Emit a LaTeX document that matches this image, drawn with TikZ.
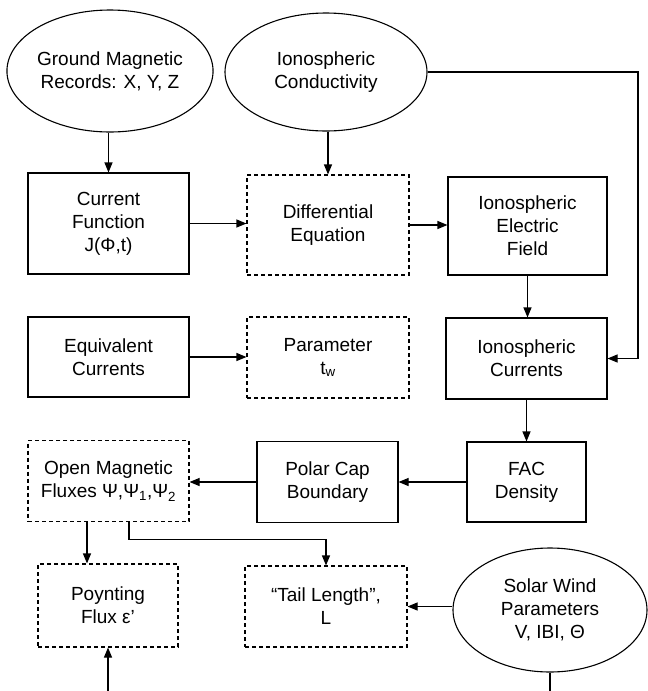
\documentclass[tikz,border=0pt]{standalone}
\usepackage{fontspec}
\setmainfont{Liberation Sans}
\usetikzlibrary{arrows.meta,shapes.geometric}
\begin{document}
\begin{tikzpicture}[x=1pt,y=-1pt,
  base/.style={draw, line width=1.1pt, inner sep=0pt, align=center,
    font=\fontsize{19}{23}\selectfont},
  solidbox/.style={base, rectangle},
  dashbox/.style={base, rectangle, dash pattern=on 4pt off 3pt},
  oval/.style={base, ellipse, minimum width=196pt, minimum height=122pt},
  link/.style={line width=1.1pt, -{Triangle[length=10pt,width=8pt]}},
  plain/.style={line width=1.1pt}]
\useasboundingbox (0,0) rectangle (648,691);

% input ovals
\node[oval] (gmr) at (110,71) {Ground Magnetic\\Records: X, Y, Z};
\node[oval, minimum width=202pt, minimum height=118pt] (cond) at (326,72) {Ionospheric\\Conductivity};
\node[oval, minimum width=194pt, minimum height=124pt] (sw) at (550,610) {Solar Wind\\Parameters\\V, IBI, Θ};

% processing boxes
\node[solidbox, minimum width=161pt, minimum height=101pt] (cf) at (108.5,223.5) {Current\\Function\\J(Φ,t)};
\node[dashbox, minimum width=162pt, minimum height=100pt] (de) at (328,225) {Differential\\Equation};
\node[solidbox, minimum width=159pt, minimum height=98pt] (ef) at (527.5,226) {Ionospheric\\Electric\\Field};

\node[solidbox, minimum width=161pt, minimum height=80pt] (eq) at (108.5,357) {Equivalent\\Currents};
\node[dashbox, minimum width=162pt, minimum height=81pt] (tw) at (328,357.5) {Parameter\\t\textsubscript{w}};
\node[solidbox, minimum width=161pt, minimum height=81pt] (ic) at (526.5,358.5) {Ionospheric\\Currents};

\node[dashbox, minimum width=161pt, minimum height=81pt] (om) at (108.5,481) {Open Magnetic\\Fluxes Ψ,Ψ\textsubscript{1},Ψ\textsubscript{2}};
\node[solidbox, minimum width=141pt, minimum height=81pt] (pc) at (327.5,482) {Polar Cap\\Boundary};
\node[solidbox, minimum width=119pt, minimum height=80pt] (fac) at (526.5,482) {FAC\\Density};

\node[dashbox, minimum width=140pt, minimum height=83pt] (pf) at (108,605.5) {Poynting\\Flux ε'};
\node[dashbox, minimum width=162pt, minimum height=81pt] (tl) at (326,606.5) {“Tail Length”,\\L};

% helper coordinates for the rail and the lower edge
\coordinate (rail) at (638,0);
\coordinate (floor) at (0,691);

% connectors
\draw[link] (cf.north |- gmr.south) -- (cf.north);
\draw[link] (de.north |- cond.south) -- (de.north);
\draw[link] (cf.east) -- (cf.east -| de.west);
\draw[link] (de.east) -- (de.east -| ef.west);
\draw[link] (ef.south) -- (ef.south |- ic.north);
\draw[link] (cond.east) -- (cond.east -| rail) |- (ic.east);
\draw[link] (eq.east) -- (eq.east -| tw.west);
\draw[link] (ic.south) -- (ic.south |- fac.north);
\draw[link] (fac.west) -- (fac.west -| pc.east);
\draw[link] (pc.west) -- (pc.west -| om.east);
\draw[link] ([xshift=-21.5pt]om.south) -- ([xshift=-21.5pt]om.south |- pf.north);
\draw[link] ([xshift=20.5pt]om.south) -- ++(0,17) -| (tl.north);
\draw[link] (sw.west |- tl.east) -- (tl.east);
\draw[plain] (sw.south) -- (sw.south |- floor);
\draw[link] (pf.south |- floor) -- (pf.south);
\end{tikzpicture}
\end{document}
